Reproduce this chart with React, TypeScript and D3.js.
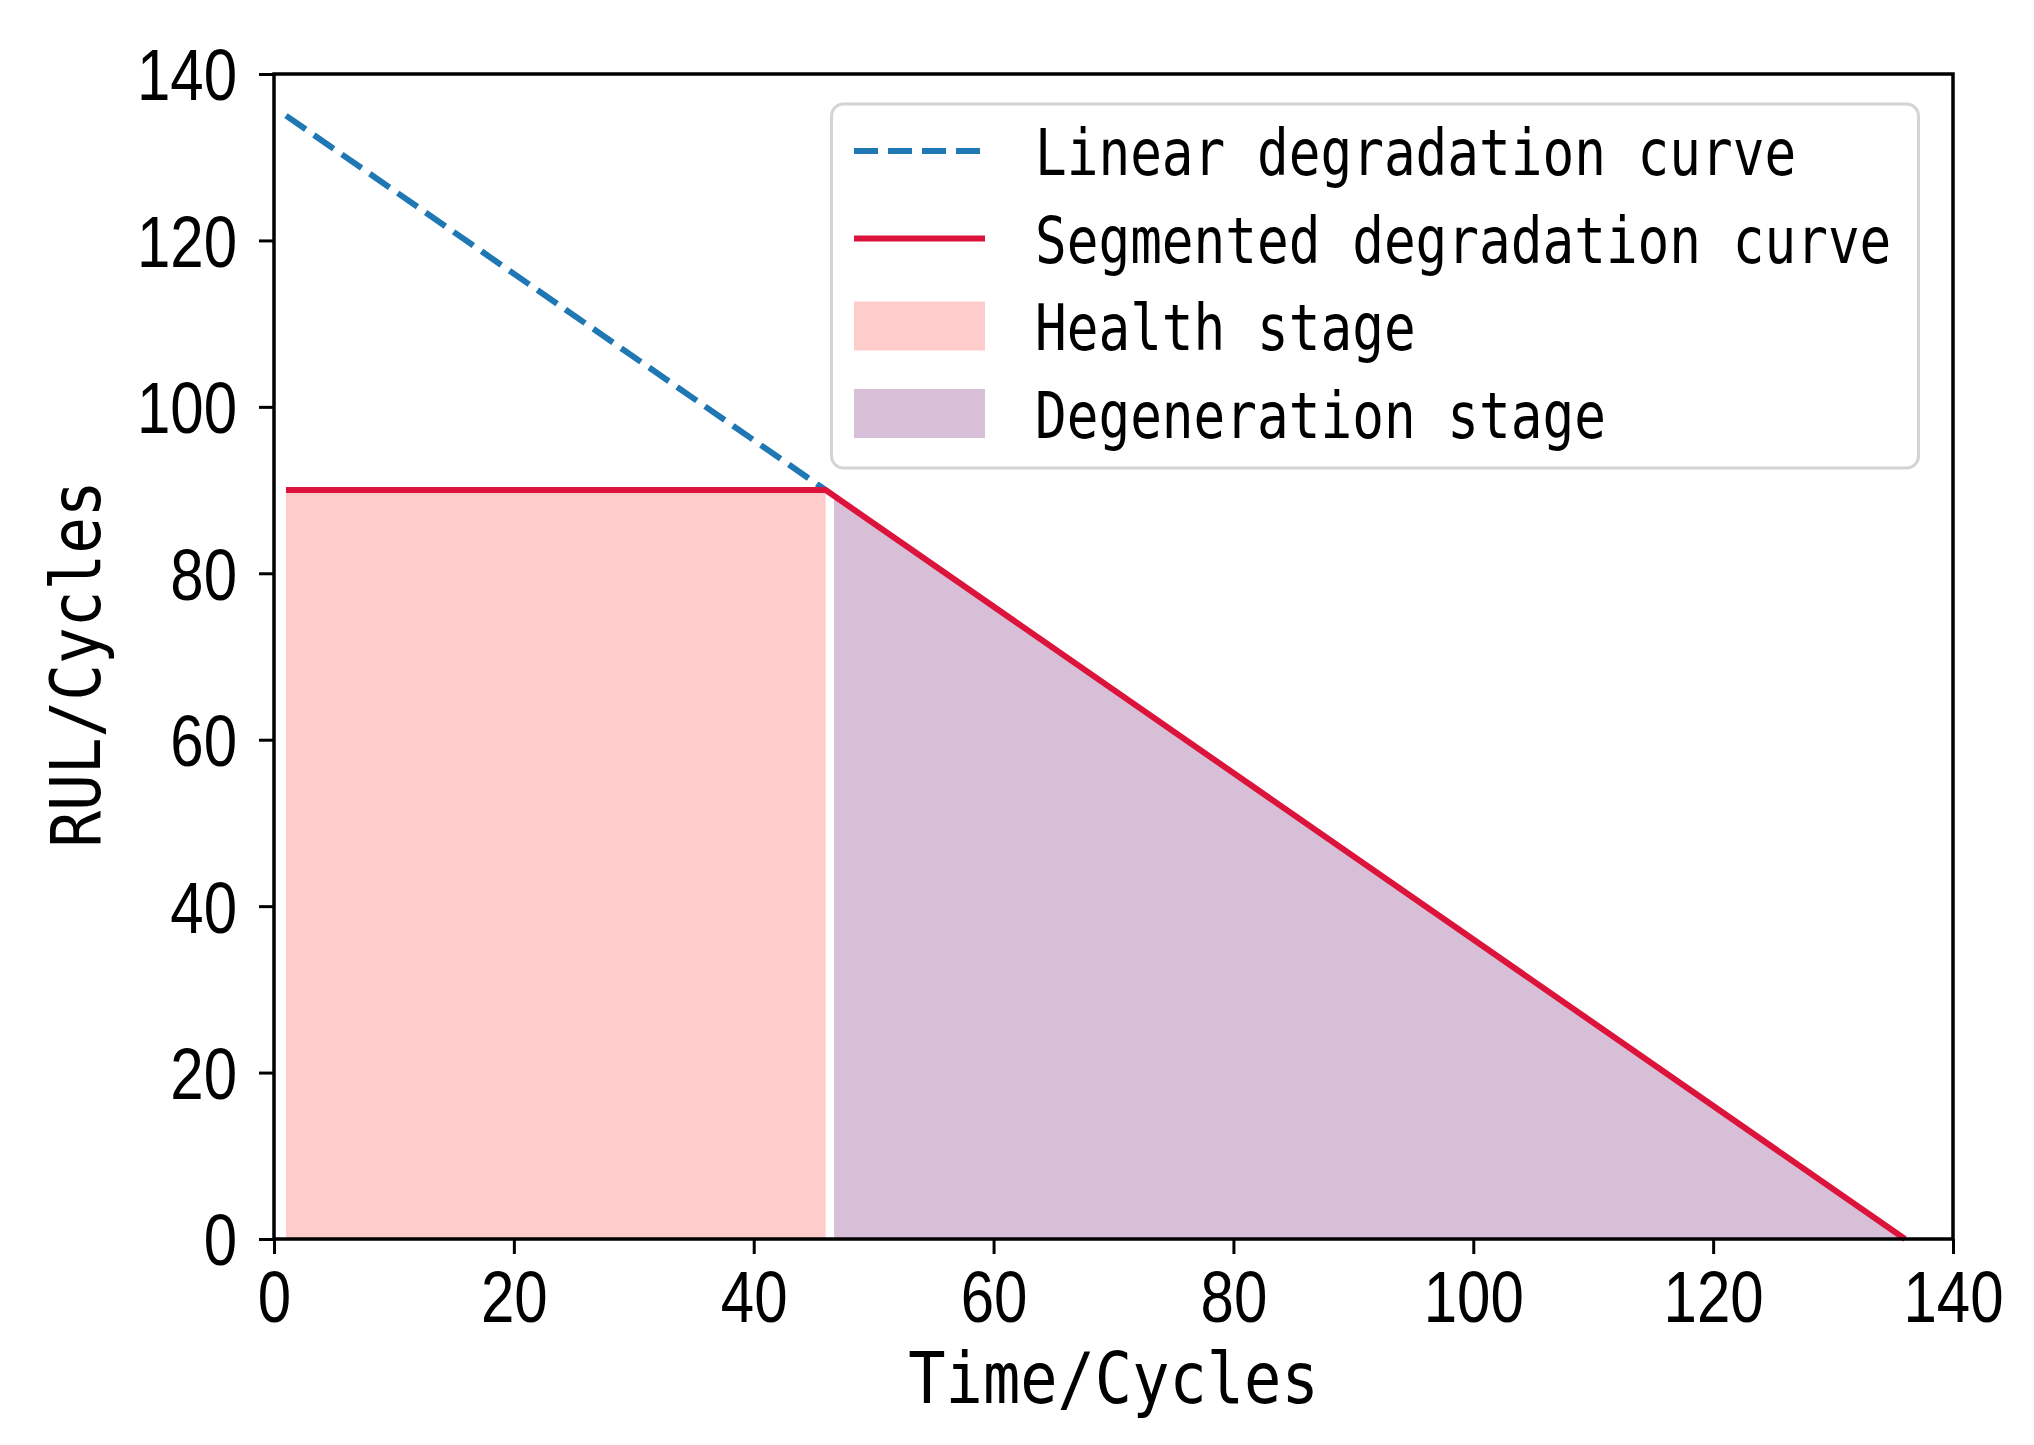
import { useEffect, useRef } from 'react';
import * as d3 from 'd3';

interface Pt {
    t: number;
    rul: number;
}

// values
const linearCurve: Pt[] = [
    { t: 1, rul: 135 },
    { t: 46, rul: 90 },
];
const segmentedCurve: Pt[] = [
    { t: 1, rul: 90 },
    { t: 46, rul: 90 },
    { t: 136, rul: 0 },
];
const healthStage: Pt[] = [
    { t: 1, rul: 90 },
    { t: 46, rul: 90 },
];
const degenerationStage: Pt[] = [
    { t: 46.7, rul: 89.3 },
    { t: 136, rul: 0 },
];
const xTicks = [0, 20, 40, 60, 80, 100, 120, 140];
const yTicks = [0, 20, 40, 60, 80, 100, 120, 140];
const legendLabels = [
    'Linear degradation curve',
    'Segmented degradation curve',
    'Health stage',
    'Degeneration stage',
];
const xLabel = 'Time/Cycles';
const yLabel = 'RUL/Cycles';

const BLUE = '#1f77b4';
const RED = '#dc143c';
const HEALTH = '#ffcccc';
const DEGEN = '#d8bfd8';

const svgWidth = 2034;
const svgHeight = 1445;
const margin = { top: 74, right: 81, bottom: 206, left: 274 };
const width = svgWidth - margin.left - margin.right;
const height = svgHeight - margin.top - margin.bottom;

const tickFont = "'Liberation Sans', Arial, sans-serif";
const monoFont = "'DejaVu Sans Mono', monospace";

const App = () => {
    const svgRef = useRef<SVGSVGElement>(null);

    useEffect(() => {
        const root = d3.select(svgRef.current);
        root.selectAll('*').remove();

        const x = d3.scaleLinear().domain([0, 140]).range([0, width]);
        const y = d3.scaleLinear().domain([0, 140]).range([height, 0]);

        const svg = root
            .append('g')
            .attr('transform', `translate(${margin.left},${margin.top})`);

        // stage fills
        const area = d3
            .area<Pt>()
            .x(d => x(d.t))
            .y0(y(0))
            .y1(d => y(d.rul));
        svg.append('path').datum(healthStage).attr('d', area).attr('fill', HEALTH);
        svg.append('path').datum(degenerationStage).attr('d', area).attr('fill', DEGEN);

        // curves
        const line = d3
            .line<Pt>()
            .x(d => x(d.t))
            .y(d => y(d.rul));
        svg.append('path')
            .datum(linearCurve)
            .attr('d', line)
            .attr('fill', 'none')
            .attr('stroke', BLUE)
            .attr('stroke-width', 6)
            .attr('stroke-dasharray', '24 10');
        svg.append('path')
            .datum(segmentedCurve)
            .attr('d', line)
            .attr('fill', 'none')
            .attr('stroke', RED)
            .attr('stroke-width', 6)
            .attr('stroke-linejoin', 'round');

        // y axis
        const yAxis = svg
            .append('g')
            .call(
                d3
                    .axisLeft(y)
                    .tickValues(yTicks)
                    .tickSize(15)
                    .tickSizeOuter(0)
                    .tickPadding(22)
                    .tickFormat(d3.format('d'))
            );
        yAxis.select('.domain').remove();
        yAxis.selectAll('.tick line').attr('stroke', '#000').attr('stroke-width', 3);
        yAxis
            .selectAll('.tick text')
            .attr('font-family', tickFont)
            .attr('font-size', 60)
            .attr('fill', '#000')
            .attr('dy', '0.36em')
            .attr('transform', 'scale(1,1.2)');

        // x axis
        const xAxis = svg
            .append('g')
            .attr('transform', `translate(0,${height})`)
            .call(
                d3
                    .axisBottom(x)
                    .tickValues(xTicks)
                    .tickSize(15)
                    .tickSizeOuter(0)
                    .tickFormat(d3.format('d'))
            );
        xAxis.select('.domain').remove();
        xAxis.selectAll('.tick line').attr('stroke', '#000').attr('stroke-width', 3);
        xAxis
            .selectAll('.tick text')
            .attr('font-family', tickFont)
            .attr('font-size', 60)
            .attr('fill', '#000')
            .attr('dy', null)
            .attr('y', 83 / 1.2)
            .attr('transform', 'scale(1,1.2)');

        // frame
        svg.append('rect')
            .attr('width', width)
            .attr('height', height)
            .attr('fill', 'none')
            .attr('stroke', '#000')
            .attr('stroke-width', 3.5);

        // axis labels
        svg.append('text')
            .attr('transform', `translate(${width / 2},${height + 164}) scale(1,1.15)`)
            .attr('text-anchor', 'middle')
            .attr('font-family', monoFont)
            .attr('font-size', 62)
            .attr('fill', '#000')
            .text(xLabel);

        svg.append('text')
            .attr('transform', `translate(${100 - margin.left},${664 - margin.top}) rotate(-90) scale(1,1.15)`)
            .attr('text-anchor', 'middle')
            .attr('font-family', monoFont)
            .attr('font-size', 61)
            .attr('fill', '#000')
            .text(yLabel);

        // legend
        const legend = svg
            .append('g')
            .attr('transform', `translate(${831.5 - margin.left},${104 - margin.top})`);
        legend
            .append('rect')
            .attr('width', 1087)
            .attr('height', 364)
            .attr('rx', 12)
            .attr('fill', '#fff')
            .attr('fill-opacity', 0.85)
            .attr('stroke', '#d4d4d4')
            .attr('stroke-width', 3);

        const rows = legend
            .selectAll('g.row')
            .data(legendLabels)
            .join('g')
            .attr('class', 'row')
            .attr('transform', (_d, i) => `translate(0,${47 + i * 87.5})`);

        rows.each(function (_d, i) {
            const row = d3.select(this);
            if (i === 0) {
                row.append('line')
                    .attr('x1', 22.5)
                    .attr('x2', 153.5)
                    .attr('stroke', BLUE)
                    .attr('stroke-width', 6)
                    .attr('stroke-dasharray', '24 10');
            } else if (i === 1) {
                row.append('line')
                    .attr('x1', 22.5)
                    .attr('x2', 153.5)
                    .attr('stroke', RED)
                    .attr('stroke-width', 6);
            } else {
                row.append('rect')
                    .attr('x', 22.5)
                    .attr('y', -24.5)
                    .attr('width', 131)
                    .attr('height', 49)
                    .attr('fill', i === 2 ? HEALTH : DEGEN);
            }
        });

        rows.append('text')
            .attr('transform', 'translate(203.5,24) scale(1,1.2)')
            .attr('font-family', monoFont)
            .attr('font-size', 52.7)
            .attr('fill', '#000')
            .text(d => d);
    }, []);

    return (
        <svg
            ref={svgRef}
            width={svgWidth}
            height={svgHeight}
            style={{ position: 'absolute', left: 0, top: 0, background: '#fff' }}
        ></svg>
    );
};

export default App;
